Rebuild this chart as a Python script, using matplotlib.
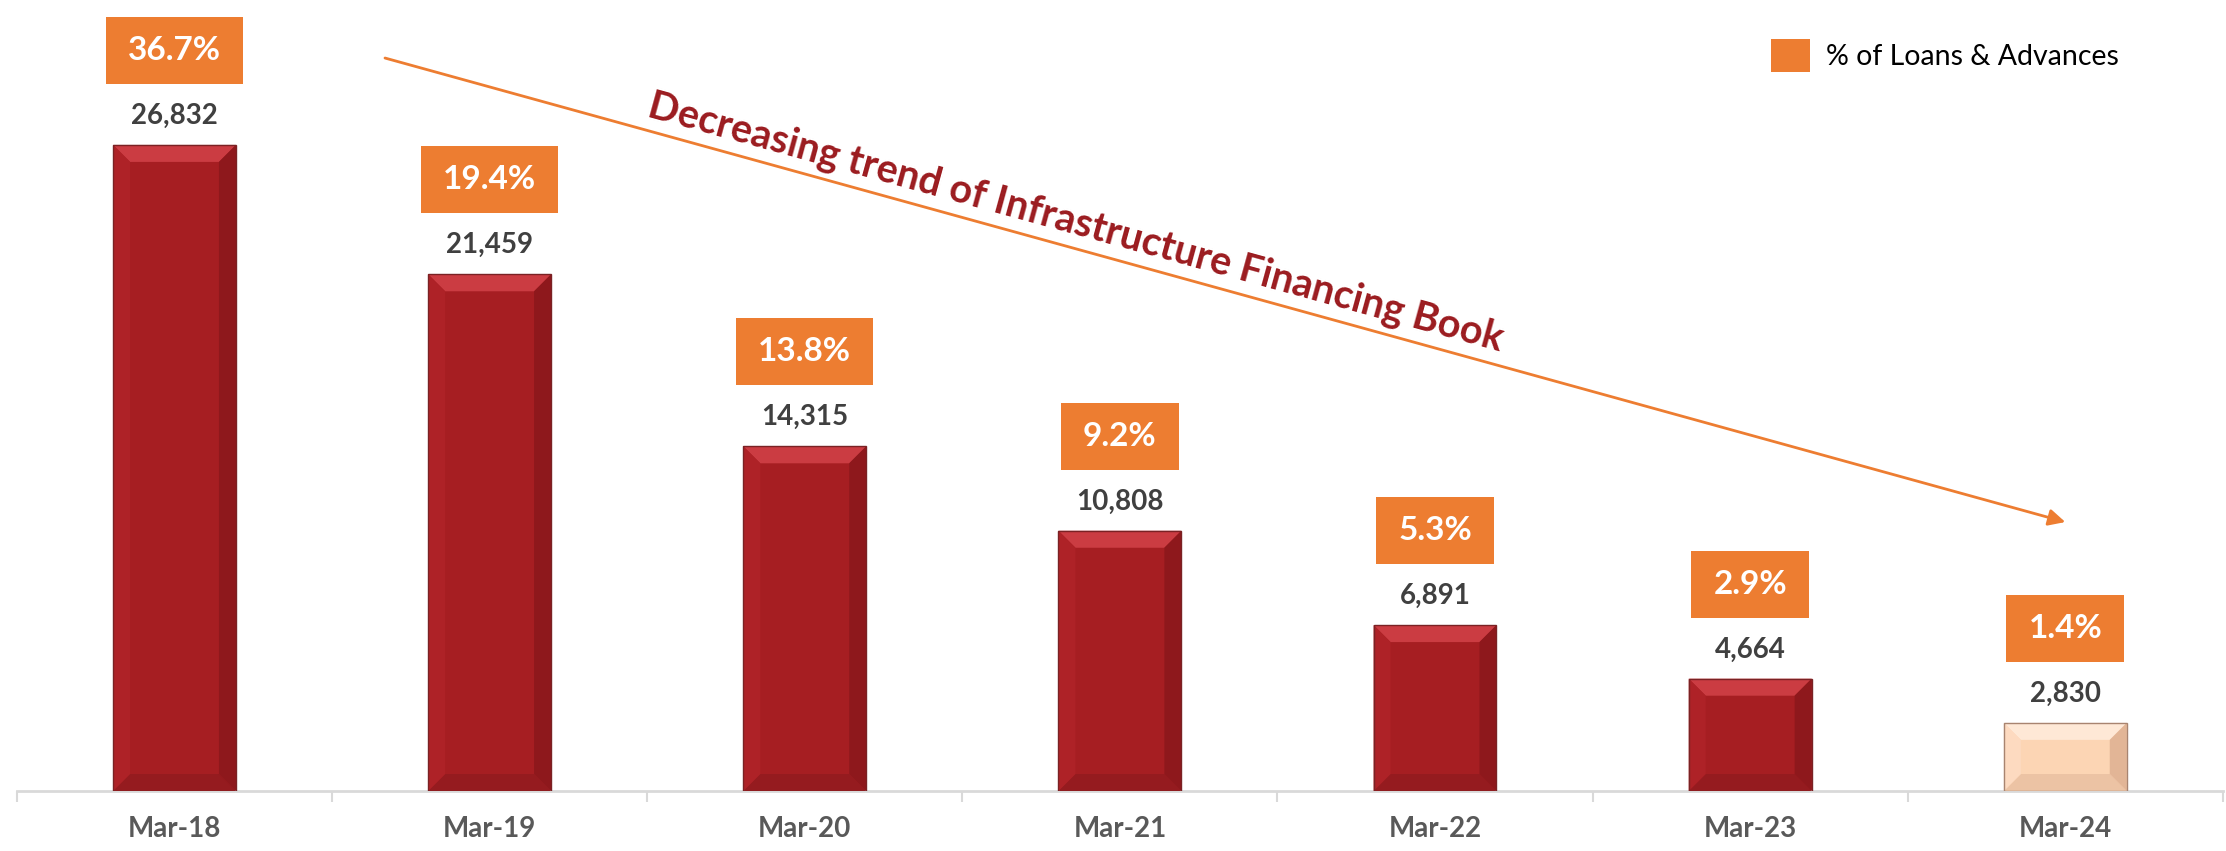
import matplotlib
matplotlib.use("Agg")
import matplotlib.pyplot as plt
from matplotlib.patches import Polygon, Patch, Rectangle

# data
periods = ["Mar-18", "Mar-19", "Mar-20", "Mar-21", "Mar-22", "Mar-23", "Mar-24"]
infra_book = [26832, 21459, 14315, 10808, 6891, 4664, 2830]
pct_loans = [36.7, 19.4, 13.8, 9.2, 5.3, 2.9, 1.4]

RED = "#A61E22"
PEACH = "#FCD5B4"
ORANGE = "#ED7D31"

plt.rcParams["font.family"] = ["Lato", "DejaVu Sans"]

fig = plt.figure(figsize=(22.26, 8.51), dpi=100)
ax = fig.add_axes([0.0076, 0.0705, 0.991, 0.9295])

x = list(range(len(periods)))
colors = [RED] * (len(periods) - 1) + [PEACH]
bars = ax.bar(x, infra_book, width=0.39, color=colors, linewidth=0, zorder=2)

ax.set_xlim(-0.5, len(periods) - 0.5)
ax.set_ylim(0, 32850)


def add_bevel(rect, light, side_l, side_r, dark, edge, size_px=17):
    inv = ax.transData.inverted()
    p0 = inv.transform((0, 0))
    p1 = inv.transform((size_px, size_px))
    bx, by = p1[0] - p0[0], p1[1] - p0[1]
    x0 = rect.get_x()
    x1 = x0 + rect.get_width()
    y1 = rect.get_height()
    polys = [
        ([(x0, y1), (x1, y1), (x1 - bx, y1 - by), (x0 + bx, y1 - by)], light),
        ([(x0, 0), (x1, 0), (x1 - bx, by), (x0 + bx, by)], dark),
        ([(x0, 0), (x0 + bx, by), (x0 + bx, y1 - by), (x0, y1)], side_l),
        ([(x1, 0), (x1 - bx, by), (x1 - bx, y1 - by), (x1, y1)], side_r),
    ]
    for pts, c in polys:
        ax.add_patch(Polygon(pts, closed=True, facecolor=c, edgecolor="none", zorder=3))
    ax.add_patch(Polygon([(x0, 0), (x1, 0), (x1, y1), (x0, y1)], closed=True,
                         facecolor="none", edgecolor=edge, linewidth=1.0, zorder=4))


for i, rect in enumerate(bars):
    if i < len(bars) - 1:
        add_bevel(rect, "#CB3C42", "#AE2227", "#8E181C", "#951B1F", "#7A2224")
    else:
        add_bevel(rect, "#FEE8D6", "#FDDAC0", "#E2B596", "#ECC3A4", "#A88470")

# value labels and percent labels
pct_texts = []
for xi, v, p in zip(x, infra_book, pct_loans):
    ax.annotate(f"{v:,}", (xi, v), xytext=(0, 21), textcoords="offset points",
                ha="center", va="center", fontsize=20, fontweight="bold",
                color="#404040", zorder=5)
    t = ax.annotate(f"{p:.1f}%", (xi, v), xytext=(0, 68), textcoords="offset points",
                    ha="center", va="center", fontsize=24, fontweight="bold",
                    color="white", zorder=7)
    pct_texts.append(t)

# orange boxes behind percent labels (fixed height, padded width)
fig.canvas.draw()
renderer = fig.canvas.get_renderer()
inv = ax.transData.inverted()
for t in pct_texts:
    bb = t.get_window_extent(renderer)
    cx, cy = (bb.x0 + bb.x1) / 2, (bb.y0 + bb.y1) / 2
    w = bb.width + 2 * 22
    h = 67
    (dx0, dy0), (dx1, dy1) = inv.transform([(cx - w / 2, cy - h / 2), (cx + w / 2, cy + h / 2)])
    ax.add_patch(Rectangle((dx0, dy0), dx1 - dx0, dy1 - dy0, facecolor=ORANGE,
                           edgecolor="none", zorder=6, clip_on=False))

# trend arrow and text
ax.annotate("", xy=(6.0, 11170), xytext=(0.668, 30440),
            arrowprops=dict(arrowstyle="-|>", color=ORANGE, lw=2,
                            mutation_scale=25, shrinkA=0, shrinkB=0))
ax.text(2.86, 23590, "Decreasing trend of Infrastructure Financing Book",
        rotation=-15.4, rotation_mode="anchor", ha="center", va="center",
        fontsize=28.5, fontweight="bold", color="#9B1B1F")

# axes styling
for s in ["top", "right", "left"]:
    ax.spines[s].set_visible(False)
ax.spines["bottom"].set_color("#D9D9D9")
ax.spines["bottom"].set_linewidth(2)
ax.set_yticks([])
ax.set_xticks(x)
ax.set_xticklabels(periods, fontsize=20, fontweight="bold", color="#595959")
ax.tick_params(axis="x", which="major", length=0, pad=18)
ax.set_xticks([i - 0.5 for i in range(len(periods) + 1)], minor=True)
ax.tick_params(axis="x", which="minor", length=8, width=1.5, color="#D9D9D9")

ax.legend(handles=[Patch(facecolor=ORANGE, edgecolor="none")],
          labels=["% of Loans & Advances"], loc="center left",
          bbox_to_anchor=(0.789, 0.935), bbox_transform=fig.transFigure,
          frameon=False, fontsize=20.5, handlelength=1.4, handleheight=1.4,
          handletextpad=0.55, borderpad=0)

fig.savefig("out.png", dpi=100)
